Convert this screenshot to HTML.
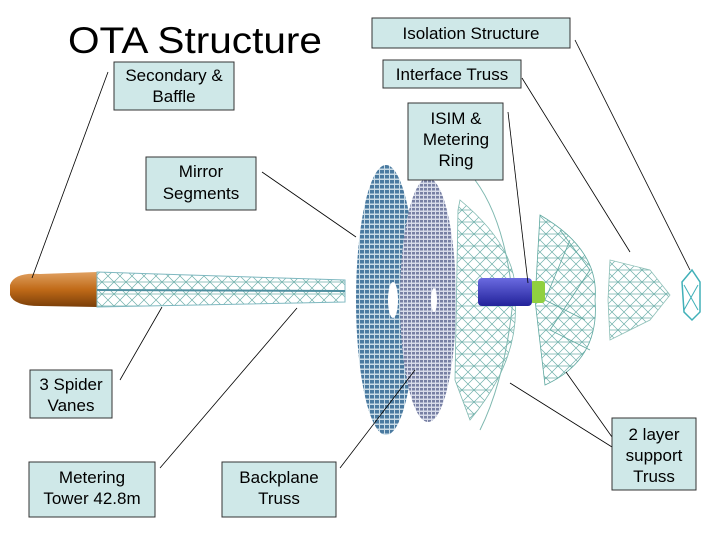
<!DOCTYPE html>
<html><head><meta charset="utf-8"><style>
body{margin:0;background:#fff}
svg{display:block}
text{font-family:"Liberation Sans",sans-serif;fill:#000}
</style></head><body>
<svg width="720" height="540" viewBox="0 0 720 540" xmlns="http://www.w3.org/2000/svg">
<defs>
<pattern id="rings" width="5" height="5" patternUnits="userSpaceOnUse">
<rect width="5" height="5" fill="#c8dbe6"/><rect x="0" y="0" width="4" height="3.5" fill="#4a7aa0"/></pattern>
<pattern id="rings2" width="4" height="4" patternUnits="userSpaceOnUse">
<rect width="4" height="4" fill="#d8dcea"/><rect x="0" y="0" width="3" height="2.5" fill="#7880a4"/></pattern>
<pattern id="truss" width="12" height="12" patternUnits="userSpaceOnUse">
<path d="M0 0L12 12M12 0L0 12M0 6H12" stroke="#6fb0aa" stroke-width="0.7" fill="none"/></pattern>
<linearGradient id="cone" x1="0" y1="0" x2="0" y2="1"><stop offset="0" stop-color="#e0a060"/><stop offset="0.5" stop-color="#c06a18"/><stop offset="1" stop-color="#7a3e08"/></linearGradient>
<linearGradient id="cyl" x1="0" y1="0" x2="0" y2="1"><stop offset="0" stop-color="#6a6ae0"/><stop offset="1" stop-color="#22229a"/></linearGradient>
</defs>
<text x="68" y="53" font-size="37" textLength="254" lengthAdjust="spacingAndGlyphs">OTA Structure</text>
<path d="M10 285 Q14 272 40 274 L97 272 L97 307 L40 306 Q14 306 10 295Z" fill="url(#cone)"/>
<path d="M97 272 L345 280 L345 302 L97 307Z" fill="url(#truss)" stroke="#7fb8c0" stroke-width="1"/>
<path d="M97 290 L345 291" stroke="#4f8fa0" stroke-width="2"/>
<ellipse cx="386" cy="300" rx="30" ry="135" fill="url(#rings)"/>
<ellipse cx="393" cy="300" rx="5" ry="18" fill="#fff"/>
<ellipse cx="428" cy="300" rx="28" ry="122" fill="url(#rings2)"/>
<ellipse cx="434" cy="300" rx="3" ry="12" fill="#fff"/>
<path d="M460 200 Q520 250 515 300 Q520 360 470 420 L455 380 L458 210Z" fill="url(#truss)" stroke="#7fb8b0" stroke-width="0.8"/>
<path d="M475 180 Q505 220 513 300 Q505 380 480 430" stroke="#7fb8b0" fill="none"/>
<path d="M540 215 Q600 250 595 300 Q600 360 545 385 L535 300Z" fill="url(#truss)" stroke="#5fa8a0" stroke-width="0.8"/>
<path d="M560 230 L590 270 L550 330 L590 350 M570 240 L545 300 L585 320" stroke="#5fa8a0" fill="none" stroke-width="0.8"/>
<path d="M610 260 L650 270 L670 295 L650 320 L610 340 L608 300Z" fill="url(#truss)" stroke="#8fc0b8" stroke-width="0.8"/>
<path d="M682 282 L692 270 L700 282 L700 312 L692 320 L684 312Z" fill="none" stroke="#40b0b8" stroke-width="1.5"/>
<path d="M684 285 L698 310 M698 285 L684 310" stroke="#40b0b8"/>
<rect x="530" y="281" width="15" height="22" rx="3" fill="#90d040"/>
<rect x="478" y="278" width="54" height="28" rx="4" fill="url(#cyl)"/>
<g stroke="#000" stroke-width="0.8">
<line x1="108" y1="72" x2="32" y2="278"/>
<line x1="575" y1="40" x2="690" y2="270"/>
<line x1="522" y1="78" x2="630" y2="252"/>
<line x1="508" y1="112" x2="528" y2="283"/>
<line x1="262" y1="172" x2="356" y2="237"/>
<line x1="120" y1="380" x2="162" y2="307"/>
<line x1="160" y1="468" x2="297" y2="308"/>
<line x1="340" y1="468" x2="415" y2="370"/>
<line x1="612" y1="447" x2="510" y2="383"/>
<line x1="612" y1="437" x2="566" y2="372"/>
</g>
<g fill="#cfe8e8" stroke="#333" stroke-width="1">
<rect x="372" y="18" width="198" height="30"/>
<rect x="114" y="62" width="120" height="48"/>
<rect x="383" y="60" width="138" height="28"/>
<rect x="408" y="103" width="95" height="77"/>
<rect x="146" y="157" width="110" height="53"/>
<rect x="30" y="370" width="82" height="48"/>
<rect x="29" y="462" width="126" height="55"/>
<rect x="222" y="462" width="114" height="55"/>
<rect x="612" y="418" width="84" height="72"/>
</g>
<g font-size="17" text-anchor="middle">
<text x="471" y="39">Isolation Structure</text>
<text x="174" y="81">Secondary &amp;</text><text x="174" y="102">Baffle</text>
<text x="452" y="80">Interface Truss</text>
<text x="456" y="124">ISIM &amp;</text><text x="456" y="145">Metering</text><text x="456" y="166">Ring</text>
<text x="201" y="177">Mirror</text><text x="201" y="199">Segments</text>
<text x="71" y="390">3 Spider</text><text x="71" y="411">Vanes</text>
<text x="92" y="483">Metering</text><text x="92" y="504">Tower 42.8m</text>
<text x="279" y="483">Backplane</text><text x="279" y="504">Truss</text>
<text x="654" y="440">2 layer</text><text x="654" y="461">support</text><text x="654" y="482">Truss</text>
</g>
</svg>
</body></html>
